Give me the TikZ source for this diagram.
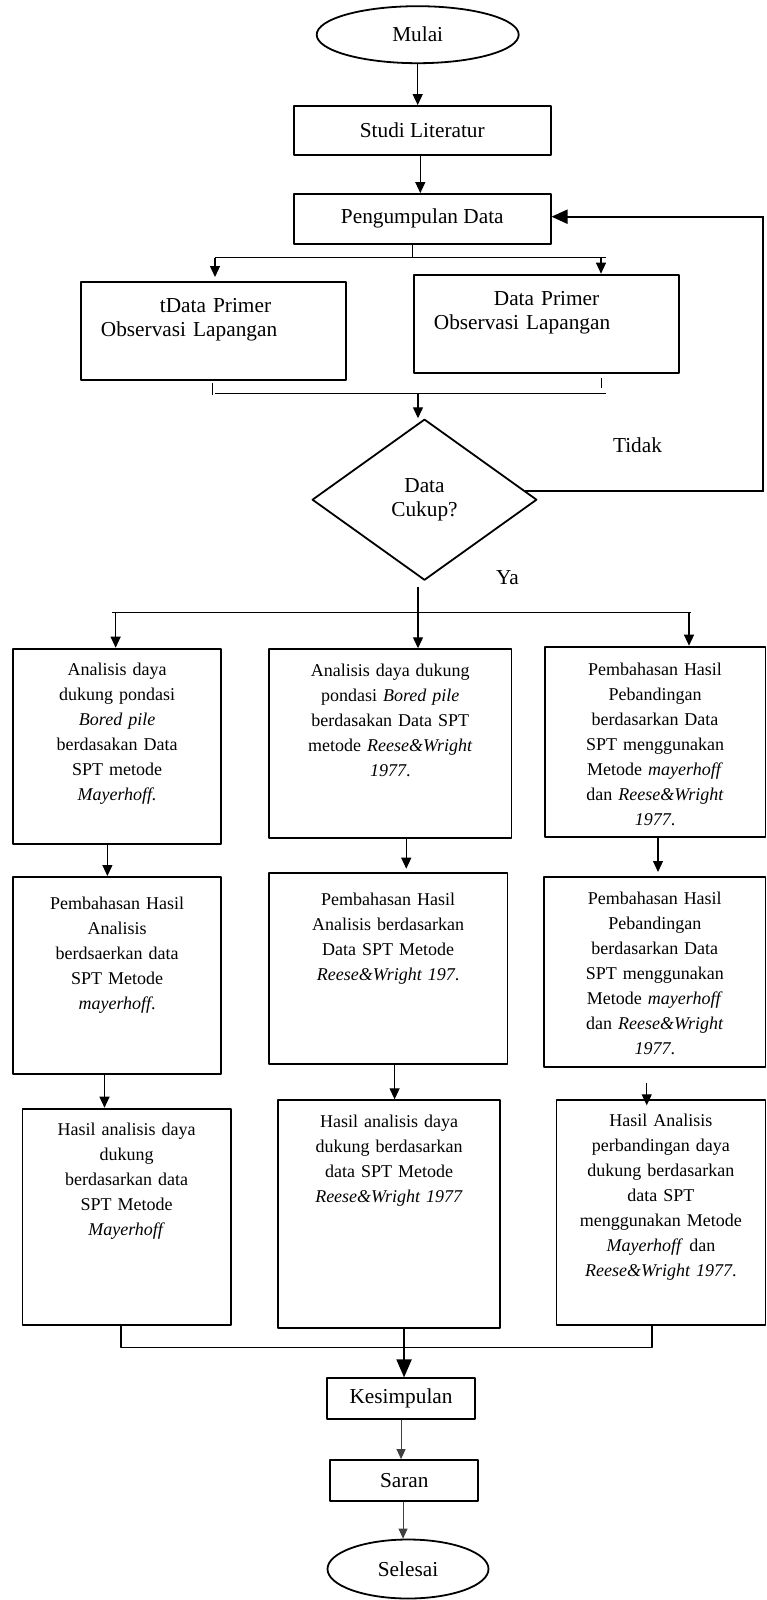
\documentclass[tikz,border=0pt]{standalone}
\usepackage{fontspec}
\setmainfont{Liberation Serif}
\usetikzlibrary{shapes.geometric,arrows.meta}
\newcommand{\hurufbesar}{\fontsize{21.3pt}{24pt}\selectfont}
\newcommand{\hurufkecil}{\fontsize{18pt}{25pt}\selectfont}
\begin{document}
\begin{tikzpicture}[x=1pt,y=-1pt,line join=round,
	kotak/.style={draw,line width=1.8pt,inner sep=0pt,font=\hurufbesar},
	isi/.style={kotak,anchor=north west,align=center,font=\hurufkecil},
	primer/.style={kotak,anchor=north west,align=left},
	bulat/.style={ellipse,draw,line width=1.8pt,inner sep=0pt,font=\hurufbesar},
	garis/.style={line width=1.2pt},
	panah/.style={line width=1.2pt,-{Triangle[length=11pt,width=10pt]}},
	panahtipis/.style={line width=0.9pt,draw=black!75,-{Triangle[length=10pt,width=9pt]}},
	panahtebal/.style={line width=2pt,-{Triangle[length=18pt,width=15pt]}},
	balikpanah/.style={line width=2pt,line join=miter,-{Triangle[length=16pt,width=14pt]}}]
	\useasboundingbox (0,0) rectangle (766,1600);
	% alur atas
	\node[bulat,minimum width=202pt,minimum height=57pt] (mulai) at (417.7,34.7) {Mulai};
	\node[kotak,minimum width=256.6pt,minimum height=49pt] (studi) at (422.3,130.5) {Studi Literatur};
	\node[kotak,minimum width=256.6pt,minimum height=49.7pt] (kumpul) at (422.3,218.8) {Pengumpulan Data};
	\node[primer,minimum width=265.4pt,text width=225.4pt,text height=31pt,text depth=67.3pt] (primA) at (80,281)
		{\hspace*{59pt}tData Primer\\Observasi Lapangan};
	\node[primer,minimum width=265.2pt,text width=224.8pt,text height=30.6pt,text depth=67.4pt] (primB) at (412.8,273.7)
		{\hspace*{60pt}Data Primer\\Observasi Lapangan};
	\node[diamond,draw,line width=1.8pt,minimum width=224.7pt,minimum height=161pt,inner sep=0pt,aspect=1.4,
		align=center,font=\hurufbesar] (cukup) at (424.5,499.7) {Data\\Cukup?};
	\node[font=\hurufbesar] (tidak) at (637.5,445.7) {Tidak};
	\node[font=\hurufbesar] (ya) at (507.5,578) {Ya};
	% tiga kolom analisis
	\node[isi,minimum width=208.1pt,text width=198pt,text height=27pt,text depth=168pt] (a1) at (12.2,647.7)
		{Analisis daya\\dukung pondasi\\\textit{Bored pile}\\berdasakan Data\\SPT metode\\\textit{Mayerhoff.}};
	\node[isi,minimum width=242.3pt,text width=232pt,text height=27pt,text depth=161.4pt] (b1) at (268.2,648.3)
		{Analisis daya dukung\\pondasi \textit{Bored pile}\\berdasakan Data SPT\\metode \textit{Reese\&Wright}\\\textit{1977}.};
	\node[isi,minimum width=220.8pt,text width=210pt,text height=28.6pt,text depth=161.7pt] (c1) at (543.7,645.7)
		{Pembahasan Hasil\\Pebandingan\\berdasarkan Data\\SPT menggunakan\\Metode \textit{mayerhoff}\\dan \textit{Reese\&Wright}\\\textit{1977}.};
	\node[isi,minimum width=208.1pt,text width=198pt,text height=33pt,text depth=163.7pt] (a2) at (12.2,876)
		{Pembahasan Hasil\\Analisis\\berdsaerkan data\\SPT Metode\\\textit{mayerhoff}.};
	\node[isi,minimum width=238.6pt,text width=228pt,text height=32.6pt,text depth=158.4pt] (b2) at (268,871.7)
		{Pembahasan Hasil\\Analisis berdasarkan\\Data SPT Metode\\\textit{Reese\&Wright 197}.};
	\node[isi,minimum width=221.3pt,text width=210pt,text height=27.3pt,text depth=162.7pt] (c2) at (543.2,876)
		{Pembahasan Hasil\\Pebandingan\\berdasarkan Data\\SPT menggunakan\\Metode \textit{mayerhoff}\\dan \textit{Reese\&Wright}\\\textit{1977}.};
	\node[isi,minimum width=208.5pt,text width=198pt,text height=26.6pt,text depth=189.7pt] (a3) at (21.5,1107.7)
		{Hasil analisis daya\\dukung\\berdasarkan data\\SPT Metode\\\textit{Mayerhoff}};
	\node[isi,minimum width=222.3pt,text width=212pt,text height=27.4pt,text depth=200pt] (b3) at (277,1099.3)
		{Hasil analisis daya\\dukung berdasarkan\\data SPT Metode\\\textit{Reese\&Wright 1977}};
	\node[isi,minimum width=209pt,text width=200pt,text height=26pt,text depth=198.7pt] (c3) at (555.5,1099.3)
		{Hasil Analisis\\perbandingan daya\\dukung berdasarkan\\data SPT\\menggunakan Metode\\\textit{Mayerhoff} dan\\\textit{Reese\&Wright 1977}.};
	% alur bawah
	\node[kotak,minimum width=147.5pt,minimum height=40.7pt] (kesimpulan) at (401.05,1398.65) {Kesimpulan};
	\node[kotak,minimum width=148.1pt,minimum height=40.7pt] (saran) at (404.25,1480.35) {Saran};
	\node[bulat,minimum width=161pt,minimum height=59pt] (selesai) at (408,1569) {Selesai};
	% titik cabang
	\coordinate (cabangA) at (412.8,257.7);
	\coordinate (cabangKi) at (215,257.7);
	\coordinate (cabangKa) at (605.8,257.7);
	\coordinate (cabangKa2) at (601,257.7);
	\coordinate (tikKi) at (212.5,395);
	\coordinate (tikKa) at (601.8,388);
	\coordinate (gabungKi) at (215,393.3);
	\coordinate (gabungKa) at (606,393.3);
	\coordinate (gabungA) at (418,393.3);
	\coordinate (balik) at (763,216.7);
	\coordinate (cabangB) at (418,612.7);
	\coordinate (cabangBKi) at (112,612.7);
	\coordinate (cabangBKa) at (691,612.7);
	\coordinate (gabungBKi) at (121,1347.3);
	\coordinate (gabungBKa) at (652,1347.3);
	% penghubung
	\draw[panah] (mulai.south) -- (mulai.south |- studi.north);
	\draw[panah] ([xshift=-2pt]studi.south) -- ([xshift=-2pt]kumpul.north);
	\draw[garis] (cabangA |- kumpul.south) -- (cabangA);
	\draw[garis] (cabangKi) -- (cabangKa);
	\draw[panah,shorten >=4pt] (cabangKi) -- (cabangKi |- primA.north);
	\draw[panah] (cabangKa2) -- (cabangKa2 |- primB.north);
	\draw[garis,shorten <=2pt] (tikKi |- primA.south) -- (tikKi);
	\draw[garis,shorten <=4pt] (tikKa |- primB.south) -- (tikKa);
	\draw[garis] (gabungKi) -- (gabungKa);
	\draw[panah] (gabungA) -- (gabungA |- cukup.north);
	\draw[balikpanah] (cukup.5) -- (cukup.5 -| balik) -- (balik) -- (balik -| kumpul.east);
	\draw[garis,shorten <=6pt] (cabangB |- cukup.south) -- (cabangB);
	\draw[garis] (cabangBKi) -- (cabangBKa);
	\draw[panah] ([xshift=-1.5pt]a1.north |- cabangB) -- ([xshift=-1.5pt]a1.north);
	\draw[panah] (cabangB) -- (cabangB |- b1.north);
	\draw[panah] ([xshift=34pt]c1.north |- cabangB) -- ([xshift=34pt]c1.north);
	\draw[panah] ([xshift=-9.75pt]a1.south) -- ([xshift=-9.75pt]a2.north);
	\draw[panah,shorten >=3pt] ([xshift=16pt]b1.south) -- ([xshift=16pt]b1.south |- b2.north);
	\draw[panah,shorten >=4pt] ([xshift=3pt]c1.south) -- ([xshift=3pt]c1.south |- c2.north);
	\draw[panah] ([xshift=-12.65pt]a2.south) -- ([xshift=-12.65pt]a2.south |- a3.north);
	\draw[panah] ([xshift=6.4pt]b2.south) -- ([xshift=6.4pt]b2.south |- b3.north);
	\draw[panah,shorten <=15pt,shorten >=-6pt] ([xshift=-8pt]c2.south) -- ([xshift=-8pt]c2.south |- c3.north);
	\draw[garis] (gabungBKi |- a3.south) -- (gabungBKi) -- (gabungBKa) -- (gabungBKa |- c3.south);
	\draw[panahtebal] ([xshift=15pt]b3.south) -- ([xshift=15pt]b3.south |- kesimpulan.north);
	\draw[panahtipis] (kesimpulan.south) -- (kesimpulan.south |- saran.north);
	\draw[panahtipis] ([xshift=-1.2pt]saran.south) -- ([xshift=-1.2pt]saran.south |- selesai.north);
\end{tikzpicture}
\end{document}
